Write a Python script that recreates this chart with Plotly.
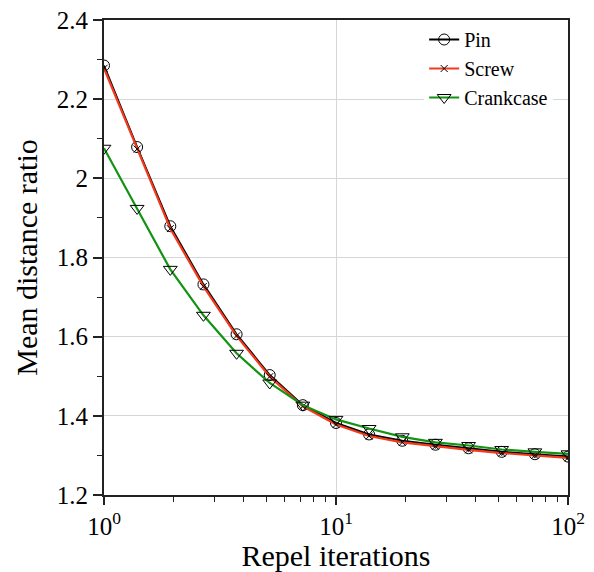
import plotly.graph_objects as go

# Data
iterations = [1, 1.389, 1.931, 2.683, 3.728, 5.179, 7.197, 10, 13.89, 19.31, 26.83, 37.28, 51.79, 71.97, 100]
pin = [2.285, 2.079, 1.879, 1.732, 1.606, 1.503, 1.427, 1.382, 1.353, 1.337, 1.327, 1.318, 1.309, 1.303, 1.297]
screw = [2.278, 2.074, 1.873, 1.727, 1.602, 1.499, 1.424, 1.378, 1.349, 1.333, 1.323, 1.314, 1.306, 1.300, 1.294]
crankcase = [2.076, 1.924, 1.770, 1.654, 1.558, 1.483, 1.427, 1.391, 1.368, 1.347, 1.333, 1.325, 1.315, 1.309, 1.304]

x_tickvals = [1, 10, 100]
x_ticktext = ["10<sup>0</sup>", "10<sup>1</sup>", "10<sup>2</sup>"]
x_minor = [m * d for d in (1, 10) for m in range(2, 10)]

FONT = "Liberation Serif"

fig = go.Figure()
fig.add_trace(go.Scatter(
    x=iterations, y=pin, name="Pin", mode="lines+markers",
    line=dict(color="black", width=2),
    marker=dict(symbol="circle-open", size=11, color="black", line=dict(width=1, color="black")),
))
fig.add_trace(go.Scatter(
    x=iterations, y=screw, name="Screw", mode="lines+markers",
    line=dict(color="#f23a1c", width=2.2),
    marker=dict(symbol="x-thin-open", size=7, color="black", line=dict(width=1, color="black")),
))
fig.add_trace(go.Scatter(
    x=iterations, y=crankcase, name="Crankcase", mode="lines+markers",
    line=dict(color="#129412", width=2.2),
    marker=dict(symbol="triangle-down-open", size=12, color="black", line=dict(width=1, color="black")),
))

fig.update_layout(
    width=594, height=572,
    margin=dict(l=104, r=26, t=20, b=77),
    paper_bgcolor="white", plot_bgcolor="white",
    font=dict(family=FONT, size=25, color="black"),
    showlegend=True,
    legend=dict(
        x=0.69, y=1, xanchor="left", yanchor="top",
        bgcolor="white", borderwidth=0,
        font=dict(family=FONT, size=20, color="black"),
        tracegroupgap=0,
    ),
    xaxis=dict(
        type="log", range=[0, 2], automargin=False,
        tickvals=x_tickvals, ticktext=x_ticktext,
        ticks="outside", ticklen=8, tickwidth=1.5, tickcolor="#222",
        showline=True, linecolor="#222", linewidth=1.8, mirror=True,
        showgrid=True, gridcolor="#d6d6d6", gridwidth=1,
        zeroline=False,
        minor=dict(tickvals=x_minor, ticks="outside", ticklen=5, tickwidth=1, tickcolor="#222", showgrid=False),
        title=dict(text="Repel iterations", font=dict(size=30), standoff=6),
        tickfont=dict(size=25),
    ),
    yaxis=dict(
        range=[1.2, 2.4], dtick=0.2, tick0=1.2, automargin=False,
        ticks="outside", ticklen=9, tickwidth=1.5, tickcolor="#222",
        showline=True, linecolor="#222", linewidth=1.8, mirror=True,
        showgrid=True, gridcolor="#d6d6d6", gridwidth=1,
        zeroline=False,
        minor=dict(dtick=0.1, ticks="outside", ticklen=5, tickwidth=1, tickcolor="#222", showgrid=False),
        title=dict(text="Mean distance ratio", font=dict(size=30), standoff=10),
        tickfont=dict(size=25),
    ),
)

fig.write_html(
    "out.html",
    config={"displayModeBar": False},
    post_script="document.body.style.margin='0';document.body.style.padding='0';",
)
